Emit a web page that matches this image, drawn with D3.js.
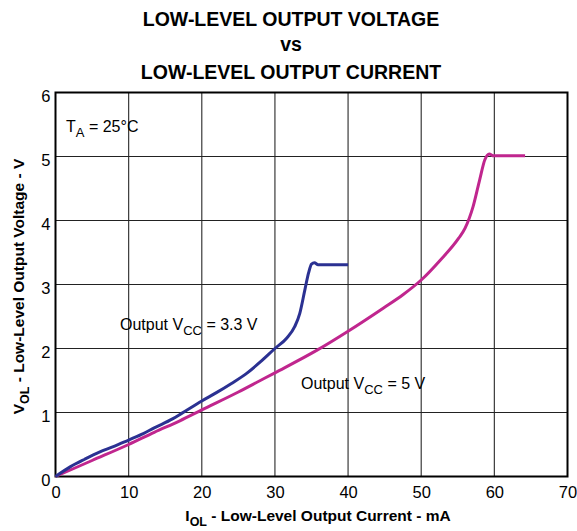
<!DOCTYPE html>
<html>
<head>
<meta charset="utf-8">
<script src="https://cdn.jsdelivr.net/npm/d3@7"></script>
<style>
  body { margin: 0; background: #fff; }
  svg { display: block; font-family: "Liberation Sans", Arial, sans-serif; }
</style>
</head>
<body>
<svg id="chart" width="577" height="531"></svg>
<script>
// ---- data ----
const titleLines = ["LOW-LEVEL OUTPUT VOLTAGE", "vs", "LOW-LEVEL OUTPUT CURRENT"];
const xTicks = [0, 10, 20, 30, 40, 50, 60, 70];
const yTicks = [0, 1, 2, 3, 4, 5, 6];

// Output VCC = 3.3 V  (IOL mA, VOL V)
const iol33 = [0, 2, 4, 6, 8, 10, 12, 13.5, 16, 17.3, 20, 22, 24, 26, 28, 30, 31.6, 32.7, 33.4, 34.1, 34.6, 35.0, 35.4, 35.9, 40];
const vol33 = [0, 0.15, 0.27, 0.38, 0.47, 0.57, 0.67, 0.76, 0.9, 0.99, 1.18, 1.31, 1.45, 1.6, 1.79, 2.0, 2.16, 2.34, 2.55, 2.92, 3.18, 3.32, 3.34, 3.31, 3.31];

// Output VCC = 5 V
const iol5 = [0, 5, 10, 13.5, 17, 20, 25, 28, 30, 35.7, 40, 44.8, 47.5, 50, 52.6, 55.1, 56, 57.1, 58, 58.7, 59.3, 59.9, 64.2];
const vol5 = [0, 0.25, 0.5, 0.69, 0.87, 1.04, 1.32, 1.5, 1.62, 1.97, 2.27, 2.63, 2.84, 3.07, 3.38, 3.72, 3.88, 4.22, 4.64, 4.95, 5.04, 5.01, 5.01];

// ---- layout ----
const svg = d3.select("#chart");
const x = d3.scaleLinear().domain([0, 70]).range([55.5, 567.5]);
const y = d3.scaleLinear().domain([0, 6]).range([476.5, 92.5]);

// title
svg.append("g").selectAll("text").data(titleLines).join("text")
  .attr("x", 291).attr("y", (d, i) => [26, 51, 79][i])
  .attr("text-anchor", "middle")
  .attr("font-weight", "bold").attr("font-size", 19.5)
  .text(d => d);

// grid
const grid = svg.append("g");
grid.selectAll("line.v").data(xTicks.slice(1, -1)).join("line")
  .attr("x1", d => x(d)).attr("x2", d => x(d))
  .attr("y1", y(0)).attr("y2", y(6))
  .attr("stroke", "#3a3a3a").attr("stroke-width", 1.2);
grid.selectAll("line.h").data(yTicks.slice(1, -1)).join("line")
  .attr("x1", x(0)).attr("x2", x(70))
  .attr("y1", d => y(d)).attr("y2", d => y(d))
  .attr("stroke", "#222").attr("stroke-width", 1.2);

// axes (labels only)
const xAxis = d3.axisBottom(x).tickValues(xTicks).tickSize(0).tickPadding(10).tickFormat(d3.format("d"));
const yAxis = d3.axisLeft(y).tickValues(yTicks).tickSize(0).tickPadding(5).tickFormat(d3.format("d"));
const gx = svg.append("g").attr("transform", `translate(0,${y(0)})`).call(xAxis);
const gy = svg.append("g").attr("transform", `translate(${x(0)},0)`).call(yAxis);
[gx, gy].forEach(g => {
  g.select(".domain").remove();
  g.selectAll("text").attr("font-size", 16.5).attr("fill", "#000")
    .attr("font-family", "'Liberation Sans', Arial, sans-serif");
});
gy.selectAll("text").attr("dy", "0.52em");

// frame
svg.append("rect")
  .attr("x", x(0)).attr("y", y(6))
  .attr("width", x(70) - x(0)).attr("height", y(0) - y(6))
  .attr("fill", "none").attr("stroke", "#000").attr("stroke-width", 2);

// curves
const line = d3.line().curve(d3.curveMonotoneX).x(d => x(d[0])).y(d => y(d[1]));
svg.append("path")
  .datum(d3.zip(iol5, vol5))
  .attr("d", line).attr("fill", "none")
  .attr("stroke", "#c0268e").attr("stroke-width", 3).attr("stroke-linejoin", "round");
svg.append("path")
  .datum(d3.zip(iol33, vol33))
  .attr("d", line).attr("fill", "none")
  .attr("stroke", "#2b3192").attr("stroke-width", 3).attr("stroke-linejoin", "round");

// annotations
function subText(xp, yp, main, sub, rest) {
  const t = svg.append("text").attr("x", xp).attr("y", yp).attr("font-size", 16);
  t.append("tspan").text(main);
  t.append("tspan").attr("font-size", 13).attr("dy", 5).text(sub);
  t.append("tspan").attr("dy", -5).text(rest);
  return t;
}
subText(66, 132, "T", "A", " = 25°C");
subText(120, 330, "Output V", "CC", " = 3.3 V");
subText(301, 389, "Output V", "CC", " = 5 V");

// axis titles
const xt = svg.append("text").attr("x", 318).attr("y", 521)
  .attr("text-anchor", "middle").attr("font-weight", "bold").attr("font-size", 15.5);
xt.append("tspan").text("I");
xt.append("tspan").attr("font-size", 12.5).attr("dy", 5).text("OL");
xt.append("tspan").attr("dy", -5).text(" - Low-Level Output Current - mA");

const yt = svg.append("text")
  .attr("transform", `translate(24,${(y(0) + y(6)) / 2 + 2}) rotate(-90)`)
  .attr("text-anchor", "middle").attr("font-weight", "bold").attr("font-size", 15.5);
yt.append("tspan").text("V");
yt.append("tspan").attr("font-size", 12.5).attr("dy", 5).text("OL");
yt.append("tspan").attr("dy", -5).text(" - Low-Level Output Voltage - V");
</script>
</body>
</html>
